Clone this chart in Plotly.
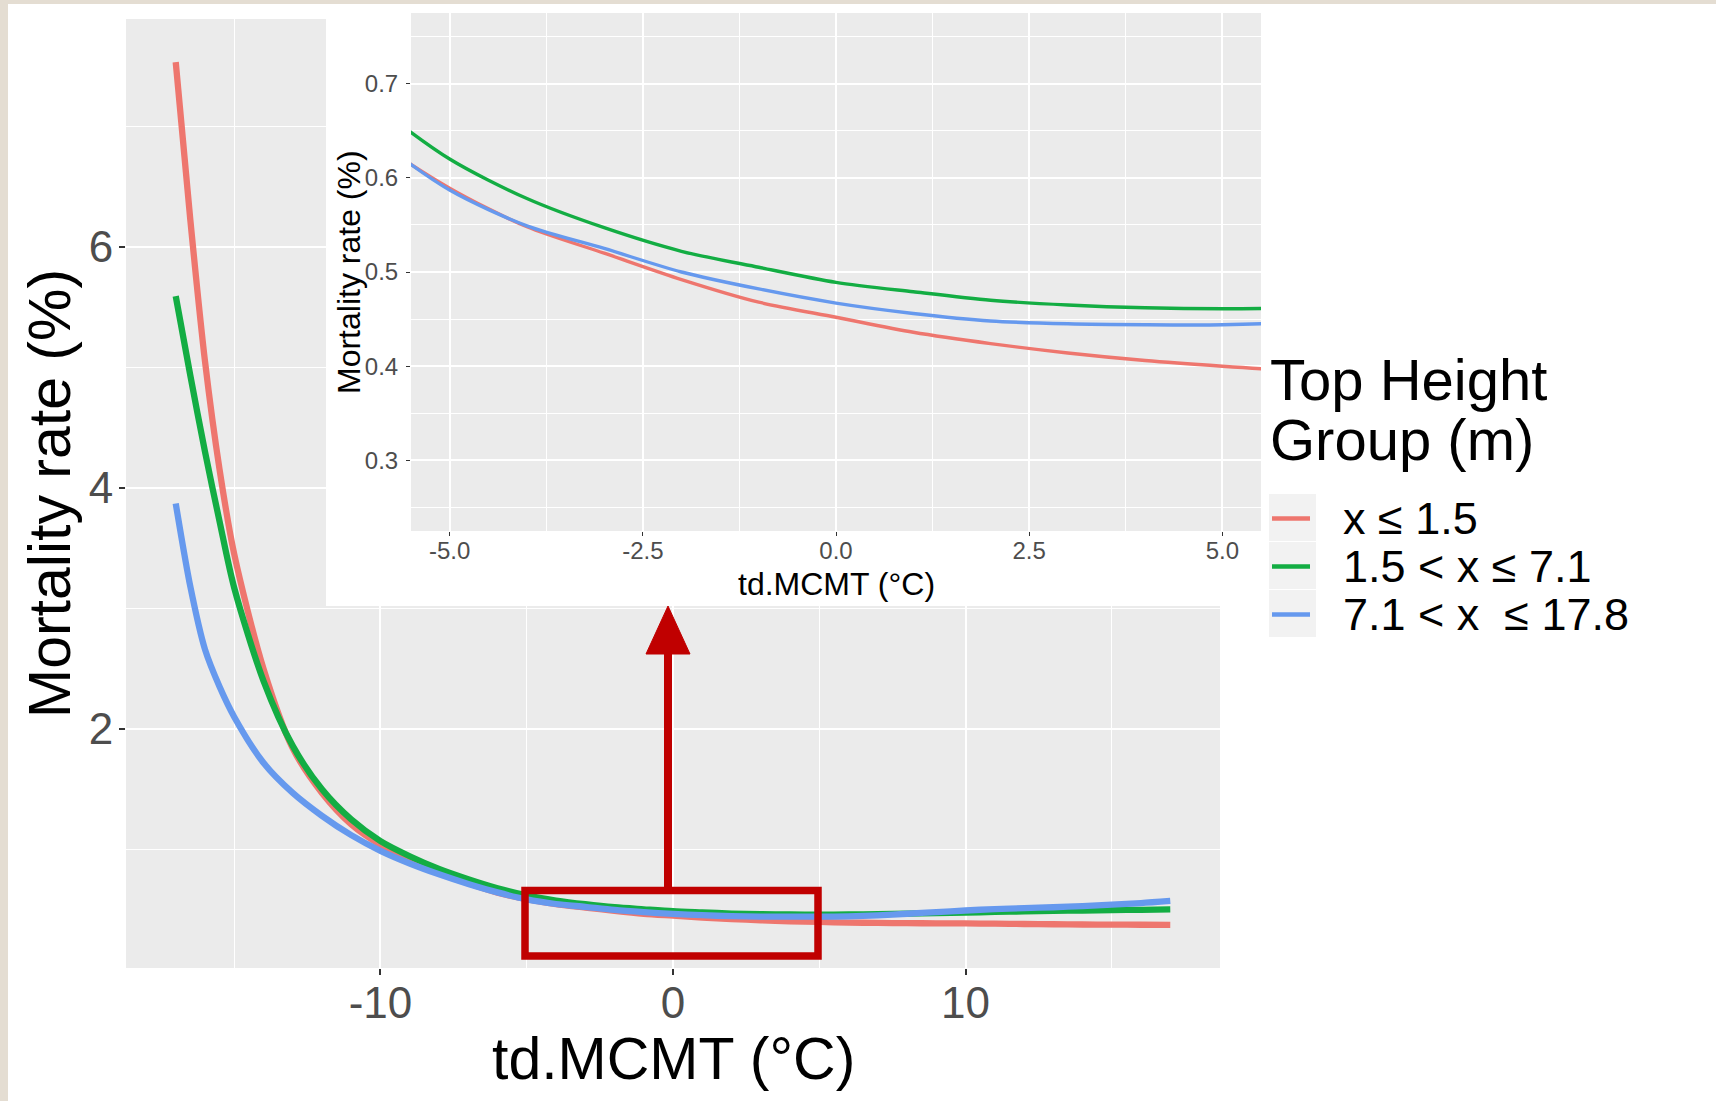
import plotly.graph_objects as go

# ---------------- data ----------------
td_mcmt = [-17, -16.5, -16, -15.5, -15, -14, -13, -12, -11, -10, -9, -8, -7, -6, -5,
           -4, -3, -2, -1, 0, 1, 2, 3, 4, 5, 6, 7, 8, 9, 10, 11, 12, 13, 14, 15, 16, 17]

mort_low = [7.53, 6.22, 5.05, 4.15, 3.45, 2.50, 1.84, 1.47, 1.21, 1.04, 0.915, 0.81, 0.72, 0.643, 0.589,
            0.548, 0.520, 0.492, 0.468, 0.452, 0.436, 0.424, 0.414, 0.406, 0.400, 0.395, 0.392, 0.390,
            0.389, 0.388, 0.386, 0.383, 0.381, 0.379, 0.378, 0.377, 0.376]
mort_mid = [5.59, 4.93, 4.30, 3.72, 3.17, 2.40, 1.86, 1.50, 1.25, 1.07, 0.945, 0.84, 0.755, 0.68, 0.620,
            0.578, 0.547, 0.522, 0.505, 0.489, 0.479, 0.470, 0.465, 0.462, 0.461, 0.462, 0.465, 0.469,
            0.473, 0.478, 0.483, 0.488, 0.492, 0.495, 0.498, 0.501, 0.504]
mort_high = [3.87, 3.18, 2.66, 2.35, 2.10, 1.72, 1.47, 1.28, 1.12, 0.99, 0.885, 0.795, 0.715, 0.645, 0.587,
             0.549, 0.525, 0.500, 0.482, 0.467, 0.456, 0.448, 0.445, 0.444, 0.444, 0.447, 0.455, 0.468,
             0.482, 0.495, 0.507, 0.515, 0.522, 0.532, 0.543, 0.557, 0.575]

group_labels = ["x ≤ 1.5", "1.5 < x ≤ 7.1", "7.1 < x  ≤ 17.8"]
legend_title = ["Top Height", "Group (m)"]

main_xticks = [-10, 0, 10]
main_yticks = [2, 4, 6]
inset_xticks = [-5.0, -2.5, 0.0, 2.5, 5.0]
inset_yticks = [0.3, 0.4, 0.5, 0.6, 0.7]
inset_xlim = [-5, 5]
inset_ylim = [0.25, 0.75]

# ---------------- style ----------------
W, H = 1716, 1101
FONT = "Liberation Sans, Arial, sans-serif"
COLORS = ["#EE766E", "#13AD43", "#6699EE"]
PANEL = "#EBEBEB"
series = [mort_low, mort_mid, mort_high]

def px(x):
    return x / W

def py(y):
    return 1 - y / H

# ggplot-style 5% expansion
def expand(lo, hi, f=0.05):
    d = (hi - lo) * f
    return [lo - d, hi + d]

all_y = mort_low + mort_mid + mort_high
main_xr = expand(min(td_mcmt), max(td_mcmt))
main_yr = expand(min(all_y), max(all_y))
inset_xr = expand(*inset_xlim)
inset_yr = expand(*inset_ylim)

# panel pixel boxes
MAIN = dict(l=126, r=1220, t=19, b=968)
INSET = dict(l=411, r=1261, t=13, b=531)

fig = go.Figure()

for vals, col, name in zip(series, COLORS, group_labels):
    fig.add_trace(go.Scatter(x=td_mcmt, y=vals, mode="lines", name=name,
                             line=dict(color=col, width=6.3, shape="spline", smoothing=0.8),
                             xaxis="x", yaxis="y", showlegend=False, hoverinfo="skip"))
for vals, col, name in zip(series, COLORS, group_labels):
    fig.add_trace(go.Scatter(x=td_mcmt, y=vals, mode="lines", name=name,
                             line=dict(color=col, width=3.4, shape="spline", smoothing=0.8),
                             xaxis="x2", yaxis="y2", showlegend=False, hoverinfo="skip"))

def minor_between(ticks, step):
    return [t + step / 2 for t in ticks] + [ticks[0] - step / 2]

fig.update_layout(
    width=W, height=H, autosize=False,
    margin=dict(l=0, r=0, t=0, b=0, pad=0),
    paper_bgcolor="white", plot_bgcolor=PANEL,
    font=dict(family=FONT, color="black"),
    showlegend=False,
    xaxis=dict(domain=[px(MAIN["l"]), px(MAIN["r"])], range=main_xr, anchor="y",
               tickvals=main_xticks, ticktext=[str(v) for v in main_xticks],
               ticks="outside", ticklen=6, tickwidth=2, tickcolor="#333333",
               tickfont=dict(size=44, color="#4D4D4D", family=FONT), ticklabelstandoff=-10,
               showgrid=True, gridcolor="white", gridwidth=2.2, zeroline=False, showline=False,
               minor=dict(tickvals=minor_between(main_xticks, 10), showgrid=True,
                          gridcolor="white", gridwidth=1.3, ticks="")),
    yaxis=dict(domain=[py(MAIN["b"]), py(MAIN["t"])], range=main_yr, anchor="x",
               tickvals=main_yticks, ticktext=[str(v) for v in main_yticks],
               ticks="outside", ticklen=6, tickwidth=2, tickcolor="#333333",
               tickfont=dict(size=44, color="#4D4D4D", family=FONT), ticklabelstandoff=-3,
               showgrid=True, gridcolor="white", gridwidth=2.2, zeroline=False, showline=False,
               minor=dict(tickvals=[1, 3, 5, 7], showgrid=True, gridcolor="white",
                          gridwidth=1.3, ticks="")),
    xaxis2=dict(domain=[px(INSET["l"]), px(INSET["r"])], range=inset_xr, anchor="y2",
                tickvals=inset_xticks, ticktext=[f"{v:.1f}" for v in inset_xticks],
                ticks="outside", ticklen=4, tickwidth=1.2, tickcolor="#333333",
                tickfont=dict(size=24, color="#4D4D4D", family=FONT), ticklabelstandoff=-6,
                showgrid=True, gridcolor="white", gridwidth=1.6, zeroline=False, showline=False,
                minor=dict(tickvals=[-3.75, -1.25, 1.25, 3.75], showgrid=True,
                           gridcolor="white", gridwidth=1.0, ticks="")),
    yaxis2=dict(domain=[py(INSET["b"]), py(INSET["t"])], range=inset_yr, anchor="x2",
                tickvals=inset_yticks, ticktext=[f"{v:.1f}" for v in inset_yticks],
                ticks="outside", ticklen=4, tickwidth=1.2, tickcolor="#333333",
                tickfont=dict(size=24, color="#4D4D4D", family=FONT), ticklabelstandoff=3,
                showgrid=True, gridcolor="white", gridwidth=1.6, zeroline=False, showline=False,
                minor=dict(tickvals=[0.25, 0.35, 0.45, 0.55, 0.65, 0.75], showgrid=True,
                           gridcolor="white", gridwidth=1.0, ticks="")),
)

shapes = []
# beige slide border (left and top)
BEIGE = "#E4DDD2"
shapes.append(dict(type="rect", xref="paper", yref="paper", x0=0, x1=px(8), y0=0, y1=1,
                   fillcolor=BEIGE, line=dict(width=0), layer="below"))
shapes.append(dict(type="rect", xref="paper", yref="paper", x0=0, x1=1, y0=py(4), y1=1,
                   fillcolor=BEIGE, line=dict(width=0), layer="below"))

# white box behind the inset, covering main grid (between grid and traces)
def main_dx(p):
    return main_xr[0] + (p - MAIN["l"]) / (MAIN["r"] - MAIN["l"]) * (main_xr[1] - main_xr[0])

def main_dy(p):
    return main_yr[1] - (p - MAIN["t"]) / (MAIN["b"] - MAIN["t"]) * (main_yr[1] - main_yr[0])

shapes.append(dict(type="rect", xref="x", yref="y", x0=main_dx(326), x1=main_dx(1300),
                   y0=main_dy(606), y1=main_dy(0), fillcolor="white",
                   line=dict(width=0), layer="between"))

# red zoom rectangle and arrow
RED = "#C00000"
shapes.append(dict(type="rect", xref="paper", yref="paper", x0=px(525), x1=px(818),
                   y0=py(956), y1=py(890.5), line=dict(color=RED, width=7.5),
                   fillcolor="rgba(0,0,0,0)", layer="above"))
shapes.append(dict(type="line", xref="paper", yref="paper", x0=px(668), x1=px(668),
                   y0=py(887), y1=py(650), line=dict(color=RED, width=8), layer="above"))
shapes.append(dict(type="path", xref="paper", yref="paper",
                   path=f"M {px(646)},{py(654)} L {px(690)},{py(654)} L {px(668)},{py(606)} Z",
                   fillcolor=RED, line=dict(color=RED, width=1), layer="above"))

# legend keys
key_x0, key_x1 = 1269, 1316
key_tops = [494, 542, 590]
for i, col in enumerate(COLORS):
    t = key_tops[i]
    shapes.append(dict(type="rect", xref="paper", yref="paper", x0=px(key_x0), x1=px(key_x1),
                       y0=py(t + 47), y1=py(t), fillcolor="#F2F2F2",
                       line=dict(width=0), layer="above"))
    cy = t + 24.5
    shapes.append(dict(type="line", xref="paper", yref="paper", x0=px(1272), x1=px(1310),
                       y0=py(cy), y1=py(cy), line=dict(color=col, width=4.5), layer="above"))

fig.update_layout(shapes=shapes)

ann = []
# main axis titles
ann.append(dict(text="td.MCMT (°C)", x=px(673), y=py(1059), xref="paper", yref="paper",
                xanchor="center", yanchor="middle", showarrow=False,
                font=dict(size=59, color="black", family=FONT)))
ann.append(dict(text="Mortality rate (%)", x=px(50), y=py(494), xref="paper", yref="paper",
                xanchor="center", yanchor="middle", showarrow=False, textangle=-90,
                font=dict(size=59, color="black", family=FONT)))
# inset axis titles
ann.append(dict(text="td.MCMT (°C)", x=px(836), y=py(584), xref="paper", yref="paper",
                xanchor="center", yanchor="middle", showarrow=False,
                font=dict(size=32, color="black", family=FONT)))
ann.append(dict(text="Mortality rate (%)", x=px(349), y=py(272), xref="paper", yref="paper",
                xanchor="center", yanchor="middle", showarrow=False, textangle=-90,
                font=dict(size=32, color="black", family=FONT)))
# legend title
for line, cy in zip(legend_title, [379, 439]):
    ann.append(dict(text=line, x=px(1268), y=py(cy), xref="paper", yref="paper",
                    xanchor="left", yanchor="middle", showarrow=False,
                    font=dict(size=58, color="black", family=FONT)))
# legend labels
for lab, t in zip(group_labels, key_tops):
    ann.append(dict(text=lab, x=px(1341), y=py(t + 24.5), xref="paper", yref="paper",
                    xanchor="left", yanchor="middle", showarrow=False,
                    font=dict(size=45, color="black", family=FONT)))
fig.update_layout(annotations=ann)

fig.write_html("out.html")
